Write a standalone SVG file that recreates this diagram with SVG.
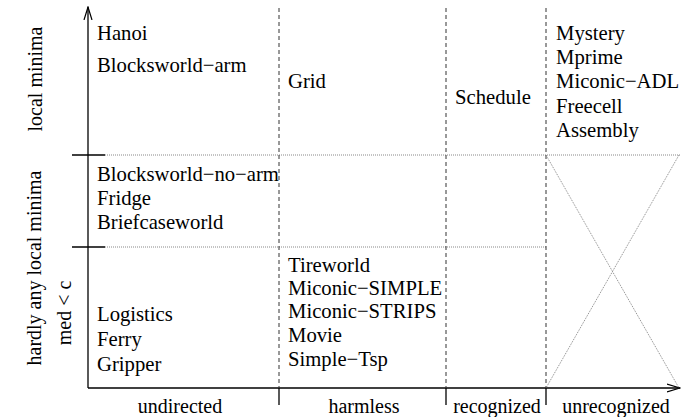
<svg xmlns="http://www.w3.org/2000/svg" width="687" height="417" viewBox="0 0 687 417">
<style>
text{font-family:"Liberation Serif","Times New Roman",serif;font-size:20.7px;fill:#000}
.lbl{font-size:20px}
.axis{stroke:#000;stroke-width:1.3;fill:none}
.dash{stroke:#333;stroke-width:1;stroke-dasharray:4 3;fill:none}
.dot{stroke:#888;stroke-width:1;stroke-dasharray:1 1;fill:none}
</style>
<defs>
<marker id="arr" markerWidth="14" markerHeight="10" refX="13" refY="5" orient="auto" markerUnits="userSpaceOnUse">
<path d="M0,1 L13,5 L0,9" fill="none" stroke="#000" stroke-width="1.2"/>
</marker>
</defs>
<rect width="687" height="417" fill="#fff"/>
<g id="connectors">
<line class="axis" x1="88" y1="388" x2="88" y2="7" marker-end="url(#arr)"/>
<line class="axis" x1="88" y1="388" x2="680" y2="388" marker-end="url(#arr)"/>
<line class="axis" x1="72" y1="155" x2="105" y2="155"/>
<line class="axis" x1="72" y1="247" x2="105" y2="247"/>
<line class="dot" x1="105" y1="155" x2="680" y2="155"/>
<line class="dot" x1="105" y1="247" x2="546" y2="247"/>
<line class="dash" x1="279" y1="8" x2="279" y2="388"/>
<line class="dash" x1="446" y1="8" x2="446" y2="388"/>
<line class="dash" x1="546" y1="8" x2="546" y2="388"/>
<line class="axis" x1="279" y1="388" x2="279" y2="405"/>
<line class="axis" x1="446" y1="388" x2="446" y2="405"/>
<line class="axis" x1="546" y1="388" x2="546" y2="405"/>
<line class="dot" x1="546" y1="155" x2="679" y2="388"/>
<line class="dot" x1="679" y1="155" x2="546" y2="388"/>
</g>
<g id="ylabels" class="lbl">
<text class="lbl" transform="translate(42,79) rotate(-90)" text-anchor="middle">local minima</text>
<text class="lbl" transform="translate(41,268) rotate(-90)" text-anchor="middle">hardly any local minima</text>
<text class="lbl" transform="translate(71,313) rotate(-90)" text-anchor="middle">med &lt; c</text>
</g>
<g id="xlabels" text-anchor="middle">
<text class="lbl" x="180" y="413">undirected</text>
<text class="lbl" x="364" y="413">harmless</text>
<text class="lbl" x="497" y="413">recognized</text>
<text class="lbl" x="616" y="413">unrecognized</text>
</g>
<g id="cell-undirected-lm">
<text x="97" y="40">Hanoi</text>
<text x="97" y="72">Blocksworld−arm</text>
</g>
<g id="cell-harmless-lm"><text x="288" y="88">Grid</text></g>
<g id="cell-recognized-lm"><text x="455" y="104">Schedule</text></g>
<g id="cell-unrecognized-lm">
<text x="556" y="40">Mystery</text>
<text x="556" y="64">Mprime</text>
<text x="556" y="88">Miconic−ADL</text>
<text x="556" y="113">Freecell</text>
<text x="556" y="137">Assembly</text>
</g>
<g id="cell-undirected-hardly">
<text x="97" y="181">Blocksworld−no−arm</text>
<text x="97" y="205">Fridge</text>
<text x="97" y="229">Briefcaseworld</text>
</g>
<g id="cell-undirected-med">
<text x="97" y="321">Logistics</text>
<text x="97" y="346">Ferry</text>
<text x="97" y="371">Gripper</text>
</g>
<g id="cell-harmless-med">
<text x="288" y="272">Tireworld</text>
<text x="288" y="295">Miconic−SIMPLE</text>
<text x="288" y="318">Miconic−STRIPS</text>
<text x="288" y="342">Movie</text>
<text x="288" y="366">Simple−Tsp</text>
</g>
</svg>
